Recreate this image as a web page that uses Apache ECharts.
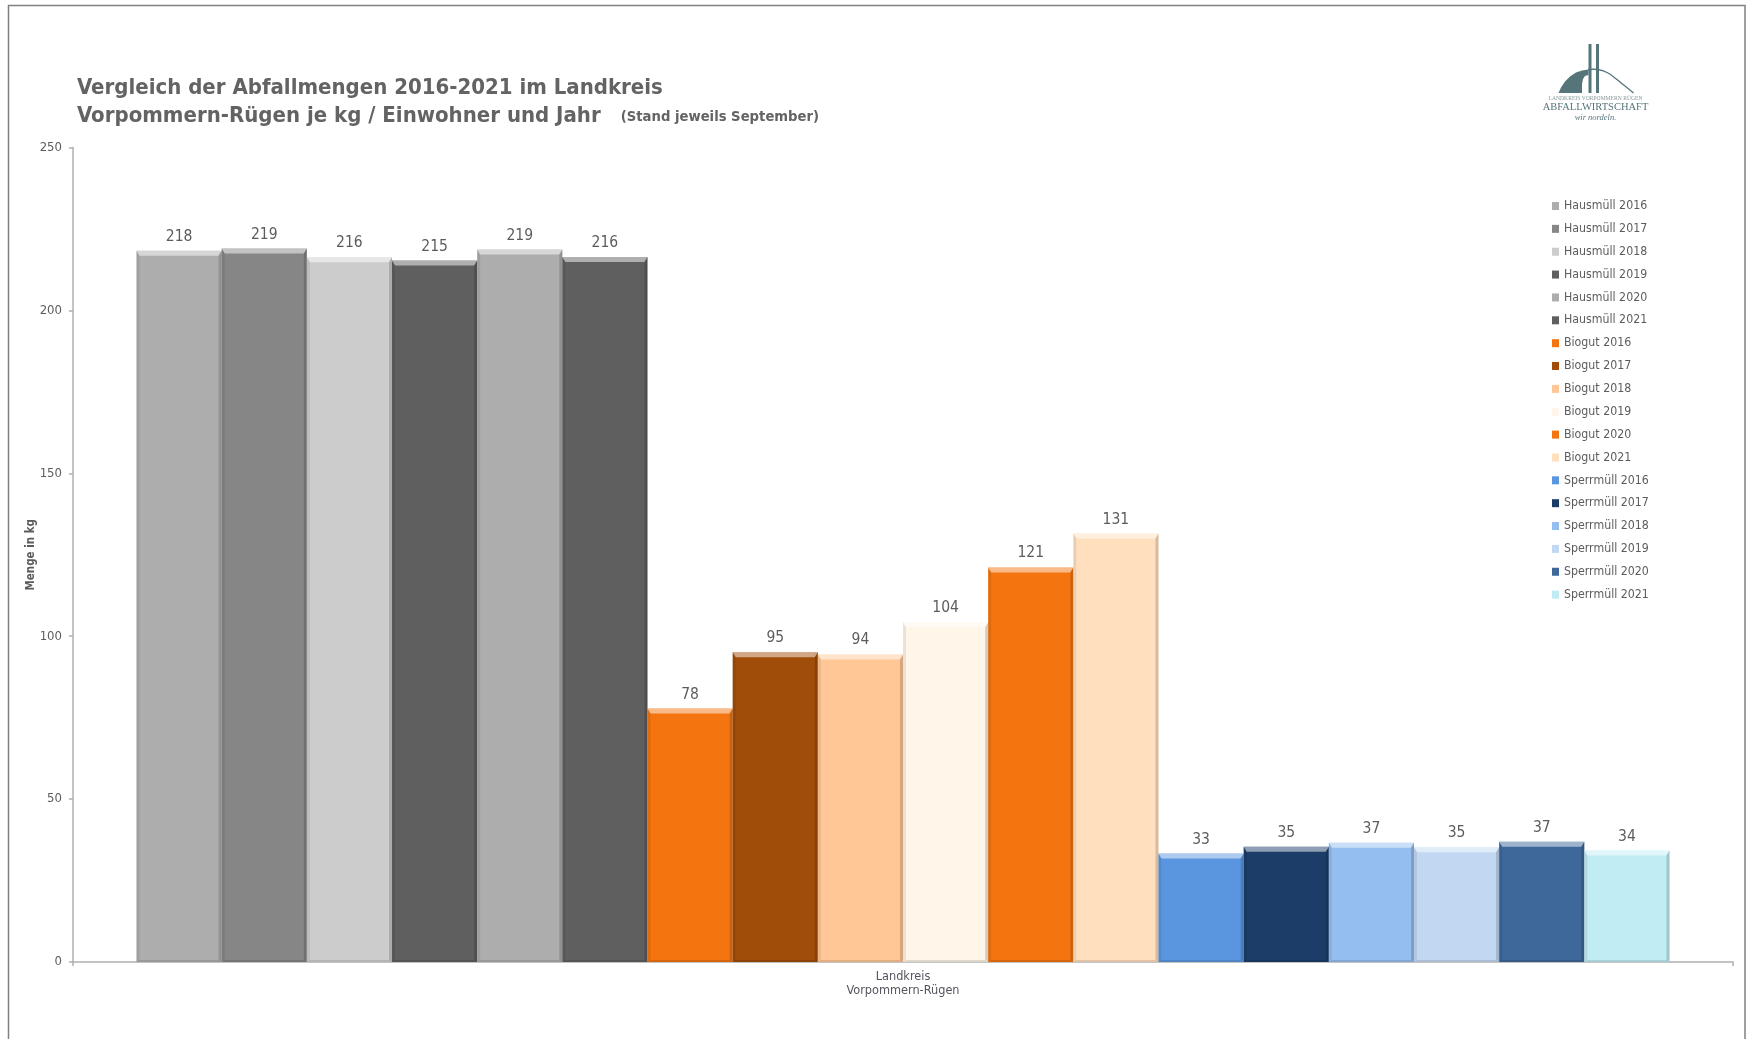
<!DOCTYPE html>
<html>
<head>
<meta charset="utf-8">
<style>html,body{margin:0;padding:0;background:#fff}#c{width:1748px;height:1039px}</style>
<script src="https://cdn.jsdelivr.net/npm/echarts@6/dist/echarts.min.js"></script>
</head>
<body>
<div id="c"></div>
<script>
const categories = ['Landkreis\nVorpommern-Rügen'];
const years = ['2016', '2017', '2018', '2019', '2020', '2021'];
const hausmuell = [218.3, 219.0, 216.3, 215.3, 218.7, 216.4];
const biogut = [77.8, 95.1, 94.4, 104.3, 121.1, 131.49];
const sperrmuell = [33.3, 35.4, 36.6, 35.2, 36.9, 34.2];
const hausmuellColors = ['#ADADAD', '#868686', '#CCCCCC', '#5F5F5F', '#ADADAD', '#5F5F5F'];
const biogutColors = ['#F4750F', '#A04D0A', '#FFC795', '#FFF5E8', '#F4750F', '#FFDFBE'];
const sperrmuellColors = ['#5A96E0', '#1C3D68', '#94BDF0', '#C2D8F2', '#3D6899', '#C0ECF4'];
const yTicks = {min: 0, max: 250, interval: 50};

const FONT = '"DejaVu Sans Condensed","DejaVu Sans",sans-serif';
const TEXT = '#5c5c5c';
const CAT_GAP = 0.0765;

const groups = [['Hausmüll', hausmuell, hausmuellColors], ['Biogut', biogut, biogutColors], ['Sperrmüll', sperrmuell, sperrmuellColors]];
const bars = [];
groups.forEach(([name, vals, cols]) => vals.forEach((v, i) => bars.push({name: name + ' ' + years[i], value: v, color: cols[i]})));
const N = bars.length;

const series = bars.map(b => ({
  type: 'bar', name: b.name, data: [b.value], barGap: 0, barCategoryGap: (CAT_GAP * 100) + '%',
  itemStyle: {color: b.color},
  label: {show: true, position: 'top', distance: 6, fontFamily: FONT, fontSize: 15.5, color: TEXT,
    formatter: p => String(Math.round(p.value))},
  z: 2
}));

// bevel overlay for every bar, positioned through the axes
series.push({
  type: 'custom', name: 'bevel', silent: true, z: 3, encode: {x: 0, y: 2}, tooltip: {show: false},
  data: bars.map((b, i) => [0, i, b.value]),
  renderItem(params, api) {
    const i = api.value(1);
    const band = api.size([1, 0])[0];
    const w = band * (1 - CAT_GAP) / N;
    const top = api.coord([0, api.value(2)]);
    const base = api.coord([0, 0]);
    const x0 = top[0] - w * N / 2 + i * w, x1 = x0 + w, y0 = top[1], y1 = base[1];
    const t = 5, s = 3, bt = 2;
    const poly = (pts, fill) => ({type: 'polygon', shape: {points: pts}, style: {fill}, silent: true});
    return {type: 'group', children: [
      poly([[x0, y0], [x1, y0], [x1 - s, y0 + t], [x0 + s, y0 + t]], 'rgba(255,255,255,0.5)'),
      poly([[x0, y0], [x0 + s, y0 + t], [x0 + s, y1 - bt], [x0, y1]], 'rgba(0,0,0,0.08)'),
      poly([[x1, y0], [x1 - s, y0 + t], [x1 - s, y1 - bt], [x1, y1]], 'rgba(0,0,0,0.16)'),
      poly([[x0, y1], [x0 + s, y1 - bt], [x1 - s, y1 - bt], [x1, y1]], 'rgba(0,0,0,0.12)')
    ]};
  }
});

const LOGO = '#56757B';
const option = {
  backgroundColor: '#fff',
  animation: false,
  title: {
    left: 77, top: 74, padding: 0,
    text: '{a|Vergleich der Abfallmengen 2016-2021 im Landkreis}\n{a|Vorpommern-Rügen je kg / Einwohner und Jahr}  {b|(Stand jeweils September)}',
    textStyle: {rich: {
      a: {fontFamily: FONT, fontSize: 22, fontWeight: 'bold', color: '#636363', lineHeight: 28.5},
      b: {fontFamily: FONT, fontSize: 14.7, fontWeight: 'bold', color: '#636363', lineHeight: 28.5, padding: [0, 0, 0, 10]}
    }}
  },
  grid: {left: 73, right: 15, top: 147.5, bottom: 77},
  legend: {
    orient: 'vertical', left: 1552, top: 200, padding: 0, itemWidth: 7, itemHeight: 8, itemGap: 10.86,
    data: bars.map(b => b.name), selectedMode: false, icon: 'rect',
    textStyle: {fontFamily: FONT, fontSize: 12.25, lineHeight: 12, color: TEXT}
  },
  xAxis: {
    type: 'category', data: categories,
    axisLine: {lineStyle: {color: '#B0B0B0', width: 1.5}},
    axisTick: {show: true, length: 4, lineStyle: {color: '#B0B0B0', width: 1.5}},
    axisLabel: {fontFamily: FONT, fontSize: 12.6, color: '#55555F', lineHeight: 14, margin: 8}
  },
  yAxis: {
    type: 'value', min: yTicks.min, max: yTicks.max, interval: yTicks.interval,
    name: 'Menge in kg', nameLocation: 'middle', nameGap: 36, nameRotate: 90, nameMoveOverlap: false,
    nameTextStyle: {fontFamily: FONT, fontSize: 11.5, fontWeight: 'bold', color: TEXT},
    splitLine: {show: false},
    axisLine: {show: true, lineStyle: {color: '#B0B0B0', width: 1.5}},
    axisTick: {show: true, length: 4, lineStyle: {color: '#B0B0B0', width: 1.5}},
    axisLabel: {fontFamily: FONT, fontSize: 13, color: TEXT, margin: 11}
  },
  series,
  graphic: [
    {type: 'polyline', shape: {points: [[8.5, 1039], [8.5, 5.5], [1745, 5.5], [1745, 1039]]}, style: {stroke: '#808080', lineWidth: 1.5, fill: null}, silent: true},
    {type: 'rect', shape: {x: 1588.5, y: 44, width: 3, height: 49}, style: {fill: LOGO}, silent: true},
    {type: 'rect', shape: {x: 1596, y: 44, width: 3, height: 49}, style: {fill: LOGO}, silent: true},
    {type: 'polygon', shape: {points: [[1558.5, 93], [1561, 87.5], [1565, 81.5], [1570, 76.5], [1576, 72.5], [1582, 70.5], [1588.5, 69.5], [1588.5, 75], [1585, 76], [1583, 79], [1582, 84], [1582, 93]]}, style: {fill: LOGO}, silent: true},
    {type: 'polyline', shape: {smooth: 0.3, points: [[1588, 69.5], [1598, 69.5], [1608, 73], [1620, 82], [1633.5, 93]]}, style: {fill: null, stroke: LOGO, lineWidth: 1.3}, silent: true},
    {type: 'text', style: {x: 1595.5, y: 99, text: 'LANDKREIS VORPOMMERN RÜGEN', fontFamily: '"Liberation Serif",serif', fontSize: 5.6, fill: '#86999C', align: 'center', verticalAlign: 'middle'}, silent: true},
    {type: 'text', style: {x: 1595.5, y: 107, text: 'ABFALLWIRTSCHAFT', fontFamily: '"Liberation Serif",serif', fontSize: 10.5, fill: LOGO, align: 'center', verticalAlign: 'middle'}, silent: true},
    {type: 'text', style: {x: 1595.5, y: 118, text: 'wir nordeln.', fontFamily: '"Liberation Serif",serif', fontStyle: 'italic', fontSize: 8.5, fill: LOGO, align: 'center', verticalAlign: 'middle'}, silent: true}
  ]
};
echarts.init(document.getElementById('c'), null, {devicePixelRatio: 1}).setOption(option);
</script>
</body>
</html>
